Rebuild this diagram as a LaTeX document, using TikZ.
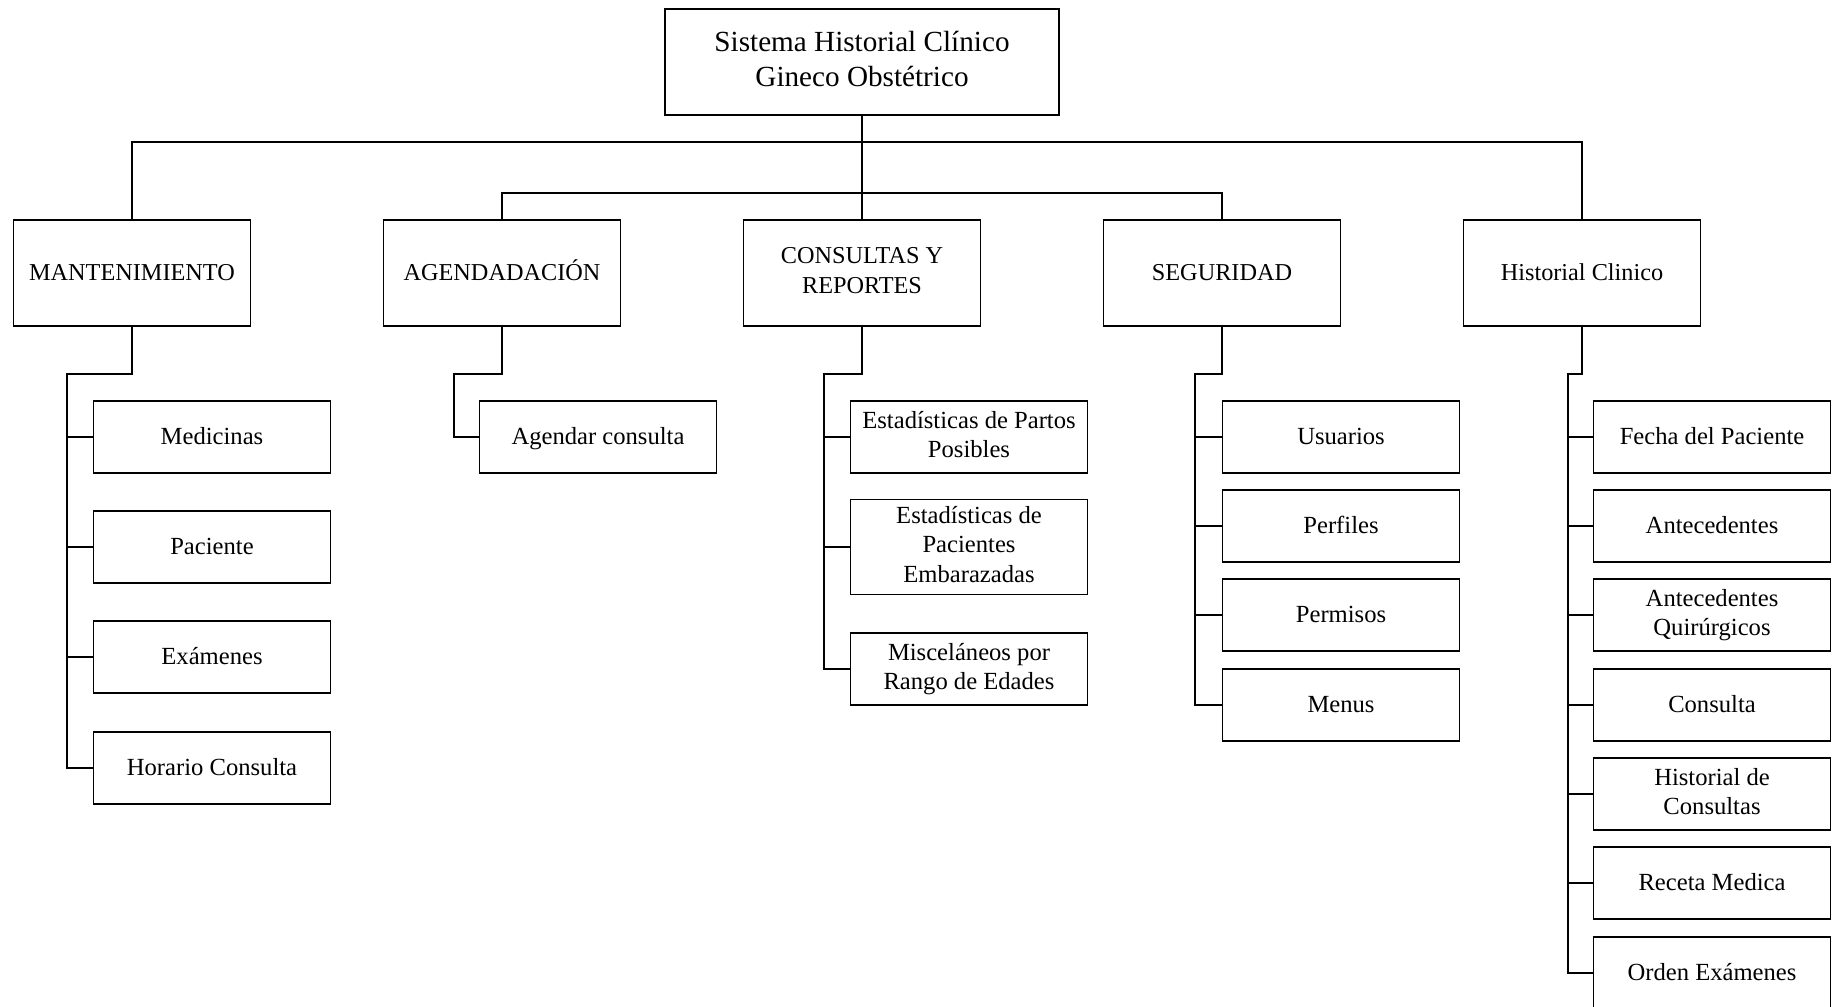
\documentclass[tikz,border=0pt]{standalone}
\usepackage{fontspec}
\setmainfont{Liberation Serif}

\begin{document}
\begin{tikzpicture}[x=0.01cm, y=-0.01cm,
  every node/.style={execute at begin node=\vphantom{Áq}, execute at end node=\vphantom{Áq}},
  topbox/.style={draw, line width=0.45pt, minimum width=3.94cm, minimum height=1.06cm, align=center, font=\fontsize{8.3}{9.9}\selectfont},
  modbox/.style={draw, line width=0.45pt, minimum width=2.37cm, minimum height=1.06cm, align=center, font=\fontsize{6.9}{8.7}\selectfont},
  subbox/.style={draw, line width=0.45pt, minimum width=2.37cm, minimum height=0.72cm, align=center, inner sep=0.5pt, font=\fontsize{7}{8.3}\selectfont},
  link/.style={line width=0.6pt}]

\useasboundingbox (0,0) rectangle (1843,1007);

% Top box
\node[topbox] (sys) at (862,62) {Sistema Historial Clínico\\Gineco Obstétrico};

% Modules
\node[modbox] (mant) at (132,273) {MANTENIMIENTO};
\node[modbox] (agen) at (502,273) {AGENDADACIÓN};
\node[modbox] (cons) at (862,273) {CONSULTAS Y\\REPORTES};
\node[modbox] (segu) at (1222,273) {SEGURIDAD};
\node[modbox] (hist) at (1582,273) {Historial Clinico};

% Buses from the top box
\coordinate (busa) at (862,142);
\coordinate (busb) at (862,193);
\draw[link] (sys.south) -- (cons.north);
\draw[link] (mant.north) |- (busa) -| (hist.north);
\draw[link] (agen.north) |- (busb) -| (segu.north);

% MANTENIMIENTO
\node[subbox] (mant1) at (212,437) {Medicinas};
\node[subbox] (mant2) at (212,547) {Paciente};
\node[subbox] (mant3) at (212,657) {Exámenes};
\node[subbox] (mant4) at (212,768) {Horario Consulta};
\coordinate (mantj) at (67,374);
\draw[link] (mant.south) |- (mantj) |- (mant4.west);
\foreach \i in {1,2,3}
  \draw[link] (mantj) |- (mant\i.west);

% AGENDADACION
\node[subbox] (agen1) at (598,437) {Agendar consulta};
\coordinate (agenj) at (454,374);
\draw[link] (agen.south) |- (agenj) |- (agen1.west);

% CONSULTAS Y REPORTES
\node[subbox] (cons1) at (969,437) {Estadísticas de Partos\\Posibles};
\node[subbox, minimum height=0.95cm] (cons2) at (969,547) {Estadísticas de\\Pacientes\\Embarazadas};
\node[subbox] (cons3) at (969,669) {Misceláneos por\\Rango de Edades};
\coordinate (consj) at (824,374);
\draw[link] (cons.south) |- (consj) |- (cons3.west);
\foreach \i in {1,2}
  \draw[link] (consj) |- (cons\i.west);

% SEGURIDAD
\node[subbox] (segu1) at (1341,437) {Usuarios};
\node[subbox] (segu2) at (1341,526) {Perfiles};
\node[subbox] (segu3) at (1341,615) {Permisos};
\node[subbox] (segu4) at (1341,705) {Menus};
\coordinate (seguj) at (1195,374);
\draw[link] (segu.south) |- (seguj) |- (segu4.west);
\foreach \i in {1,2,3}
  \draw[link] (seguj) |- (segu\i.west);

% Historial Clinico
\node[subbox] (hist1) at (1712,437) {Fecha del Paciente};
\node[subbox] (hist2) at (1712,526) {Antecedentes};
\node[subbox] (hist3) at (1712,615) {Antecedentes\\Quirúrgicos};
\node[subbox] (hist4) at (1712,705) {Consulta};
\node[subbox] (hist5) at (1712,794) {Historial de\\Consultas};
\node[subbox] (hist6) at (1712,883) {Receta Medica};
\node[subbox] (hist7) at (1712,973) {Orden Exámenes};
\coordinate (histj) at (1568,374);
\draw[link] (hist.south) |- (histj) |- (hist7.west);
\foreach \i in {1,...,6}
  \draw[link] (histj) |- (hist\i.west);

\end{tikzpicture}
\end{document}
